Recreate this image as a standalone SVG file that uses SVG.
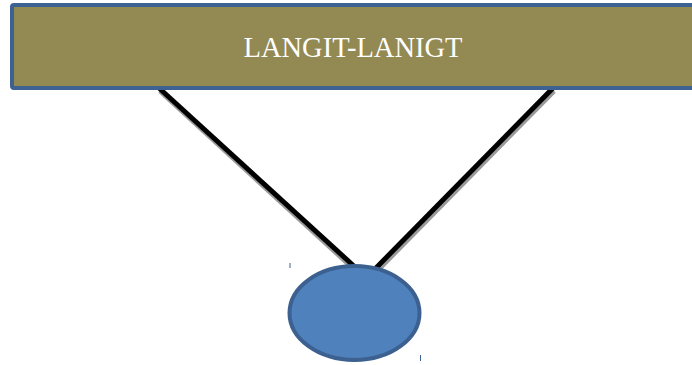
<svg xmlns="http://www.w3.org/2000/svg" width="692" height="365" viewBox="0 0 692 365">
<style>
.conn{stroke:#000;stroke-width:5;fill:none}
.shadow{stroke:#9a9a9a;stroke-width:5;fill:none}
.lbl{font-family:"Liberation Serif","Times New Roman",serif;font-size:28.5px;fill:#fff}
</style>
<rect width="692" height="365" fill="#fff"/>
<g id="connectors">
<line class="shadow" x1="160" y1="91" x2="356" y2="271"/>
<line class="shadow" x1="554" y1="91" x2="377" y2="271"/>
<line class="conn" x1="159" y1="88" x2="356" y2="268"/>
<line class="conn" x1="553" y1="88" x2="376" y2="268"/>
</g>
<g id="top">
<rect x="12" y="5" width="690" height="83" rx="2" fill="#938953" stroke="#3d6190" stroke-width="4"/>
<text class="lbl" x="353" y="57" text-anchor="middle">LANGIT-LANIGT</text>
</g>
<g id="ellipse">
<ellipse cx="354.5" cy="313" rx="65" ry="47" fill="#4f81bd" stroke="#3c6190" stroke-width="4"/>
</g>
<line x1="290" y1="263" x2="290" y2="268" stroke="#3d6190" stroke-width="1"/>
<line x1="420.5" y1="355" x2="420.5" y2="361" stroke="#3d6190" stroke-width="1"/>
</svg>
